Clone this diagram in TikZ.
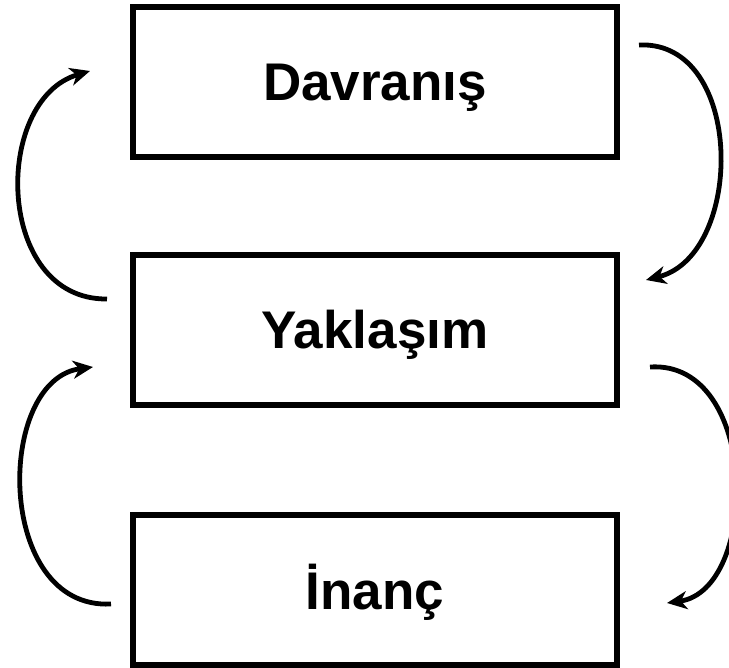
\documentclass[tikz,border=0pt]{standalone}
\usepackage{fontspec}
\setmainfont{Liberation Sans}
\usetikzlibrary{arrows.meta}
\begin{document}
\begin{tikzpicture}[x=1pt,y=-1pt,
  box/.style={draw=black,line width=5.2pt,minimum width=484pt,minimum height=150pt,inner sep=0pt,
    text height=38pt,text depth=0pt,
    font=\fontsize{53}{60}\selectfont\bfseries},
  loop/.style={line width=4.8pt,-{Stealth[length=20pt,width=18pt,inset=6pt]}}]
\useasboundingbox (0,0) rectangle (729,668);
\clip (0,0) rectangle (729,668);
\node[box] (dav) at (375,82) {Davranış};
\node[box] (yak) at (375,330) {Yaklaşım};
\node[box] (ina) at (375,590) {İnanç};
\coordinate (a1s) at (107,299);
\coordinate (a1e) at (90,71);
\coordinate (a2s) at (639,45);
\coordinate (a2e) at (646,280);
\coordinate (a3s) at (111,604);
\coordinate (a3e) at (93,367);
\coordinate (a4s) at (650,367);
\coordinate (a4e) at (667,603);
\draw[loop] (a1s) .. controls (-5,300) and (-8,100) .. (a1e);
\draw[loop] (a2s) .. controls (745,40) and (745,255) .. (a2e);
\draw[loop] (a3s) .. controls (-5,610) and (-5,380) .. (a3e);
\draw[loop] (a4s) .. controls (760,360) and (760,590) .. (a4e);
\end{tikzpicture}
\end{document}
